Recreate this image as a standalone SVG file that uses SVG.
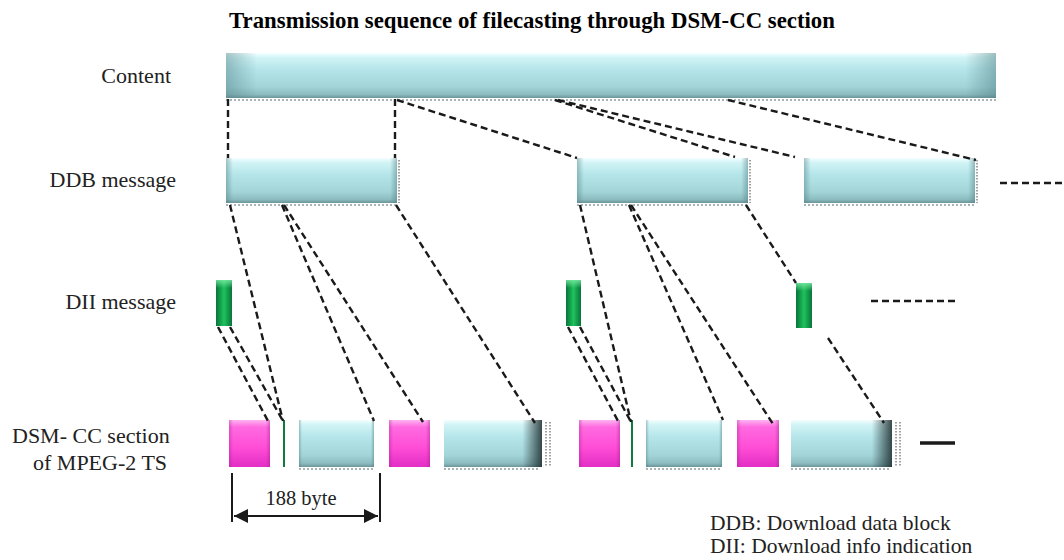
<svg xmlns="http://www.w3.org/2000/svg" width="1064" height="560" viewBox="0 0 1064 560">
  <style>
    .lbl { font-family: "Liberation Serif", "Times New Roman", serif; font-size: 22px; fill: #222; }
    .leg { font-family: "Liberation Serif", "Times New Roman", serif; font-size: 21.5px; fill: #222; }
    .dim { font-family: "Liberation Serif", "Times New Roman", serif; font-size: 20.5px; fill: #222; }
    .title { font-family: "Liberation Serif", "Times New Roman", serif; font-size: 22.8px; font-weight: bold; fill: #000; }
    .dash { fill: none; stroke: #1a1a1a; stroke-width: 2.4; stroke-dasharray: 7 4; }
    .solid { fill: none; stroke: #1a1a1a; stroke-width: 2; }
    .cyan { fill: url(#cyanV); }
    .edge { fill: url(#edgeH); }
    .mag { fill: url(#magV); }
    .magEdge { fill: url(#magH); }
    .grn { fill: url(#grnH); }
    .cap { fill: url(#grnTop); }
    .dots { fill: none; stroke: #8a9a9c; stroke-width: 1.5; stroke-dasharray: 2 2; }
    .ticks { fill: none; stroke: #444; stroke-width: 1; stroke-dasharray: 1.5 1.5; }
  </style>
  <defs>
    <linearGradient id="cyanV" x1="0" y1="0" x2="0" y2="1">
      <stop offset="0" stop-color="#f4ffff"/>
      <stop offset="0.1" stop-color="#d2f4f6"/>
      <stop offset="0.35" stop-color="#b6e6ea"/>
      <stop offset="0.75" stop-color="#a2d4d8"/>
      <stop offset="0.92" stop-color="#8cbcc0"/>
      <stop offset="1" stop-color="#6b9599"/>
    </linearGradient>
    <linearGradient id="edgeH" x1="0" y1="0" x2="1" y2="0">
      <stop offset="0" stop-color="#4f7f84" stop-opacity="0.45"/>
      <stop offset="0.04" stop-color="#4f7f84" stop-opacity="0"/>
      <stop offset="0.96" stop-color="#4f7f84" stop-opacity="0"/>
      <stop offset="1" stop-color="#4f7f84" stop-opacity="0.5"/>
    </linearGradient>
    <linearGradient id="darkR" x1="0" y1="0" x2="1" y2="0">
      <stop offset="0.8" stop-color="#1c2c2e" stop-opacity="0"/>
      <stop offset="1" stop-color="#1c2c2e" stop-opacity="0.85"/>
    </linearGradient>
    <linearGradient id="magV" x1="0" y1="0" x2="0" y2="1">
      <stop offset="0" stop-color="#ffb4f2"/>
      <stop offset="0.15" stop-color="#ff6ae0"/>
      <stop offset="0.6" stop-color="#ff4cd6"/>
      <stop offset="1" stop-color="#e22ec4"/>
    </linearGradient>
    <linearGradient id="magH" x1="0" y1="0" x2="1" y2="0">
      <stop offset="0" stop-color="#a01a8a" stop-opacity="0.35"/>
      <stop offset="0.1" stop-color="#a01a8a" stop-opacity="0"/>
      <stop offset="0.9" stop-color="#a01a8a" stop-opacity="0"/>
      <stop offset="1" stop-color="#a01a8a" stop-opacity="0.4"/>
    </linearGradient>
    <linearGradient id="grnH" x1="0" y1="0" x2="1" y2="0">
      <stop offset="0" stop-color="#07743a"/>
      <stop offset="0.5" stop-color="#1fc25c"/>
      <stop offset="1" stop-color="#07743a"/>
    </linearGradient>
    <linearGradient id="grnTop" x1="0" y1="0" x2="0" y2="1">
      <stop offset="0" stop-color="#7ff0a8" stop-opacity="0.8"/>
      <stop offset="1" stop-color="#7ff0a8" stop-opacity="0"/>
    </linearGradient>
    <marker id="arr" viewBox="0 0 10 10" refX="10" refY="5" markerWidth="7" markerHeight="7" orient="auto-start-reverse">
      <path d="M0,0 L10,5 L0,10 z" fill="#1a1a1a"/>
    </marker>
  </defs>

  <!-- heading -->
  <text class="title" x="532" y="28" text-anchor="middle">Transmission sequence of filecasting through DSM-CC section</text>

  <!-- row labels -->
  <g id="row-labels">
    <text class="lbl" x="171" y="83" text-anchor="end">Content</text>
    <text class="lbl" x="176" y="187" text-anchor="end">DDB message</text>
    <text class="lbl" x="176" y="309" text-anchor="end">DII message</text>
    <text class="lbl" x="12" y="443">DSM- CC section</text>
    <text class="lbl" x="33" y="470">of MPEG-2 TS</text>
  </g>

  <!-- content -->
  <g id="content">
    <rect class="cyan" x="226" y="53" width="770" height="45"/>
    <rect class="edge" x="226" y="53" width="770" height="45"/>
    <line class="dots" x1="226" y1="100" x2="996" y2="100"/>
  </g>

  <!-- DDB messages -->
  <g id="ddb-1">
    <rect class="cyan" x="226" y="158" width="171" height="45"/>
    <rect class="edge" x="226" y="158" width="171" height="45"/>
    <line class="dots" x1="226" y1="205" x2="397" y2="205"/>
    <line class="ticks" x1="399" y1="160" x2="399" y2="203"/>
  </g>
  <g id="ddb-2">
    <rect class="cyan" x="577" y="158" width="171" height="45"/>
    <rect class="edge" x="577" y="158" width="171" height="45"/>
    <line class="dots" x1="577" y1="205" x2="748" y2="205"/>
    <line class="ticks" x1="750" y1="160" x2="750" y2="203"/>
  </g>
  <g id="ddb-3">
    <rect class="cyan" x="804" y="158" width="171" height="45"/>
    <rect class="edge" x="804" y="158" width="171" height="45"/>
    <line class="dots" x1="804" y1="205" x2="975" y2="205"/>
    <line class="ticks" x1="977" y1="160" x2="977" y2="203"/>
  </g>

  <!-- DII messages -->
  <g id="dii-1">
    <rect class="grn" x="216" y="280" width="16" height="46"/>
    <rect class="cap" x="216" y="280" width="16" height="8"/>
  </g>
  <g id="dii-2">
    <rect class="grn" x="566" y="280" width="15" height="46"/>
    <rect class="cap" x="566" y="280" width="15" height="8"/>
  </g>
  <g id="dii-3">
    <rect class="grn" x="796" y="283" width="16" height="45"/>
    <rect class="cap" x="796" y="283" width="16" height="8"/>
  </g>

  <!-- DSM-CC sections -->
  <g id="sec-dii-1">
    <rect class="mag" x="229" y="420" width="41" height="47"/>
    <rect class="magEdge" x="229" y="420" width="41" height="47"/>
  </g>
  <g id="sec-pad-1">
    <rect x="283" y="420" width="2" height="47" fill="#137a3e"/>
  </g>
  <g id="sec-ddb-1">
    <rect class="cyan" x="299" y="420" width="75" height="47"/>
    <rect class="edge" x="299" y="420" width="75" height="47"/>
    <line class="dots" x1="299" y1="469" x2="374" y2="469"/>
  </g>
  <g id="sec-dii-2">
    <rect class="mag" x="389" y="420" width="41" height="47"/>
    <rect class="magEdge" x="389" y="420" width="41" height="47"/>
  </g>
  <g id="sec-ddb-2">
    <rect class="cyan" x="444" y="420" width="98" height="47"/>
    <rect x="444" y="420" width="98" height="47" fill="url(#darkR)"/>
    <line class="dots" x1="444" y1="469" x2="540" y2="469"/>
    <line class="ticks" x1="546" y1="422" x2="546" y2="466"/>
    <line class="ticks" x1="550" y1="422" x2="550" y2="466"/>
  </g>
  <g id="sec-dii-3">
    <rect class="mag" x="579" y="420" width="41" height="47"/>
    <rect class="magEdge" x="579" y="420" width="41" height="47"/>
  </g>
  <g id="sec-pad-2">
    <rect x="631" y="420" width="2" height="47" fill="#137a3e"/>
  </g>
  <g id="sec-ddb-3">
    <rect class="cyan" x="646" y="420" width="76" height="47"/>
    <rect class="edge" x="646" y="420" width="76" height="47"/>
    <line class="dots" x1="646" y1="469" x2="722" y2="469"/>
  </g>
  <g id="sec-dii-4">
    <rect class="mag" x="737" y="420" width="42" height="47"/>
    <rect class="magEdge" x="737" y="420" width="42" height="47"/>
  </g>
  <g id="sec-ddb-4">
    <rect class="cyan" x="791" y="420" width="101" height="47"/>
    <rect x="791" y="420" width="101" height="47" fill="url(#darkR)"/>
    <line class="dots" x1="791" y1="469" x2="890" y2="469"/>
    <line class="ticks" x1="896" y1="422" x2="896" y2="466"/>
    <line class="ticks" x1="900" y1="422" x2="900" y2="466"/>
  </g>

  <!-- connectors -->
  <g id="connectors">
    <!-- content to DDB -->
    <line class="dash" x1="228" y1="99" x2="228" y2="158"/>
    <line class="dash" x1="395" y1="99" x2="395" y2="158"/>
    <line class="dash" x1="397" y1="100" x2="577" y2="158"/>
    <line class="dash" x1="555" y1="100" x2="735" y2="157"/>
    <line class="dash" x1="558" y1="100" x2="795" y2="157"/>
    <line class="dash" x1="728" y1="100" x2="976" y2="160"/>
    <line class="dash" x1="1000" y1="183" x2="1064" y2="183"/>
    <!-- DDB / DII to sections -->
    <line class="dash" x1="230" y1="205" x2="283" y2="421"/>
    <line class="dash" x1="218" y1="327" x2="268" y2="421"/>
    <line class="dash" x1="230" y1="327" x2="283" y2="421"/>
    <line class="dash" x1="282" y1="205" x2="374" y2="421"/>
    <line class="dash" x1="284" y1="205" x2="423" y2="422"/>
    <line class="dash" x1="396" y1="205" x2="535" y2="423"/>
    <line class="dash" x1="580" y1="205" x2="631" y2="422"/>
    <line class="dash" x1="568" y1="327" x2="618" y2="421"/>
    <line class="dash" x1="580" y1="327" x2="631" y2="422"/>
    <line class="dash" x1="629" y1="205" x2="723" y2="420"/>
    <line class="dash" x1="631" y1="205" x2="773" y2="424"/>
    <line class="dash" x1="746" y1="205" x2="796" y2="283"/>
    <line class="dash" x1="828" y1="338" x2="884" y2="423"/>
    <line class="dash" x1="871" y1="301" x2="958" y2="301"/>
    <line x1="920" y1="443" x2="955" y2="443" stroke="#1a1a1a" stroke-width="3.5"/>
  </g>

  <!-- section length dimension -->
  <g id="dimension">
    <line class="solid" x1="232" y1="473" x2="232" y2="522"/>
    <line class="solid" x1="380" y1="473" x2="380" y2="522"/>
    <line class="solid" x1="234" y1="516" x2="378" y2="516" marker-start="url(#arr)" marker-end="url(#arr)"/>
    <text class="dim" x="301" y="505" text-anchor="middle">188 byte</text>
  </g>

  <!-- legend -->
  <g id="legend">
    <text class="leg" x="710" y="530">DDB: Download data block</text>
    <text class="leg" x="710" y="553">DII: Download info indication</text>
  </g>
</svg>
